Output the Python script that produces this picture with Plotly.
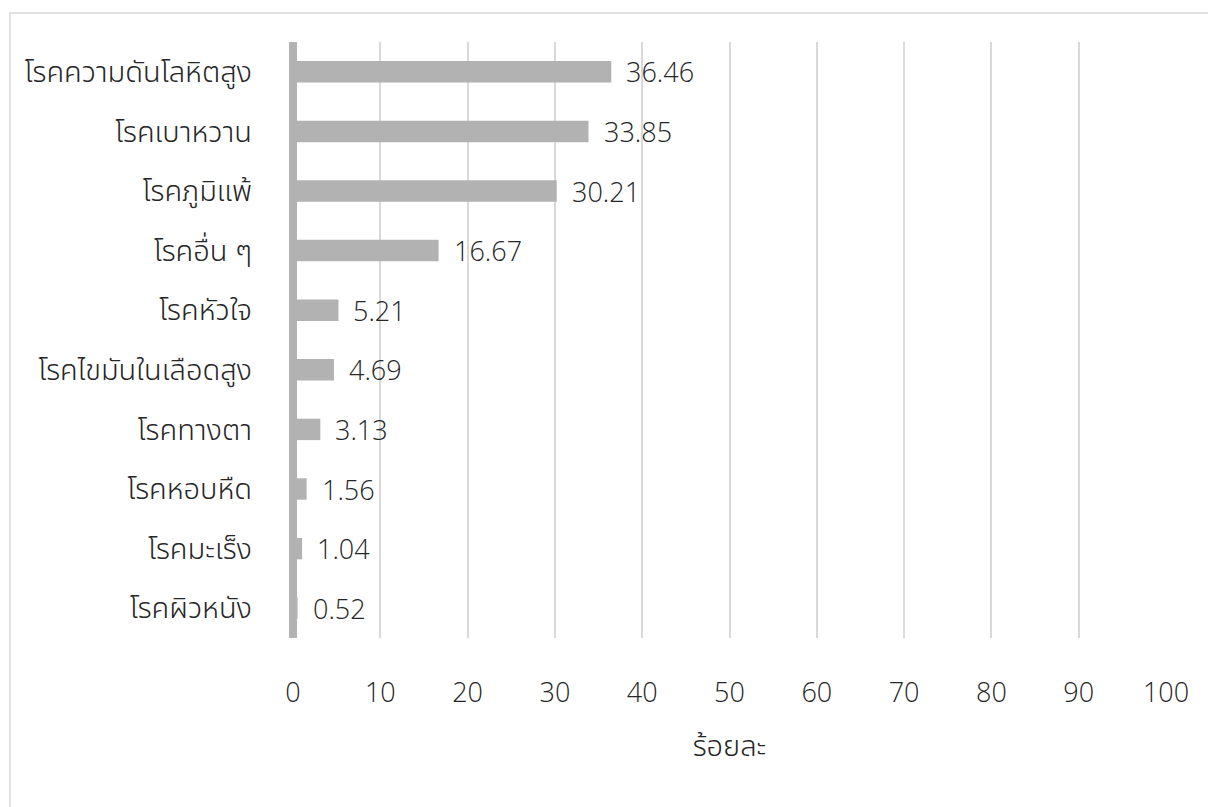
import plotly.graph_objects as go

# Chronic disease prevalence (percent)
diseases = [
    "โรคความดันโลหิตสูง",
    "โรคเบาหวาน",
    "โรคภูมิแพ้",
    "โรคอื่น ๆ",
    "โรคหัวใจ",
    "โรคไขมันในเลือดสูง",
    "โรคทางตา",
    "โรคหอบหืด",
    "โรคมะเร็ง",
    "โรคผิวหนัง",
]
percent = [36.46, 33.85, 30.21, 16.67, 5.21, 4.69, 3.13, 1.56, 1.04, 0.52]
x_ticks = [0, 10, 20, 30, 40, 50, 60, 70, 80, 90, 100]
x_title = "ร้อยละ"

FONT = "'Open Sans', 'Noto Sans Thai', 'Noto Sans', sans-serif"
BAR = "#b2b2b2"
TEXT = "#262626"

W, H = 1208, 807
L, R, T, B = 293, 42, 42, 169
pw, ph = W - L - R, H - T - B

fig = go.Figure(
    go.Bar(
        x=percent,
        y=diseases,
        orientation="h",
        marker=dict(color=BAR, line=dict(width=0)),
        width=0.36,
        hoverinfo="x+y",
    )
)

for d, v in zip(diseases, percent):
    fig.add_annotation(
        x=v, y=d, text=f"{v:.2f}", showarrow=False,
        xanchor="left", yanchor="middle", xshift=13,
        font=dict(family=FONT, size=27, color=TEXT, weight=300),
    )

# outer frame
fig.add_shape(
    type="rect", xref="paper", yref="paper",
    x0=(10 - L) / pw, x1=(W + 5 - L) / pw,
    y0=-(H + 5 - T - ph) / ph, y1=1 + (T - 13) / ph,
    line=dict(color="#d9d9d9", width=1.5), fillcolor="rgba(0,0,0,0)",
    layer="below",
)

fig.update_layout(
    width=W, height=H,
    margin=dict(l=L, r=R, t=T, b=B, pad=0),
    paper_bgcolor="white", plot_bgcolor="white",
    showlegend=False,
    font=dict(family=FONT, size=27, color=TEXT, weight=300),
    xaxis=dict(
        range=[0, 100], tickvals=x_ticks, showgrid=True,
        gridcolor="#d9d9d9", gridwidth=1.5,
        zeroline=True, zerolinecolor=BAR, zerolinewidth=8,
        showline=False, ticks="", ticklabelstandoff=36,
        tickfont=dict(family=FONT, size=27, color=TEXT, weight=300),
        title=dict(text=x_title, standoff=26,
                   font=dict(family=FONT, size=29, color=TEXT, weight=300)),
        fixedrange=True,
    ),
    yaxis=dict(
        categoryorder="array", categoryarray=diseases[::-1],
        autorange=True, showgrid=False, zeroline=False, showline=False,
        ticks="", ticklabelstandoff=40,
        tickfont=dict(family=FONT, size=29, color=TEXT, weight=300),
        fixedrange=True,
    ),
)

fig.write_html("out.html")
